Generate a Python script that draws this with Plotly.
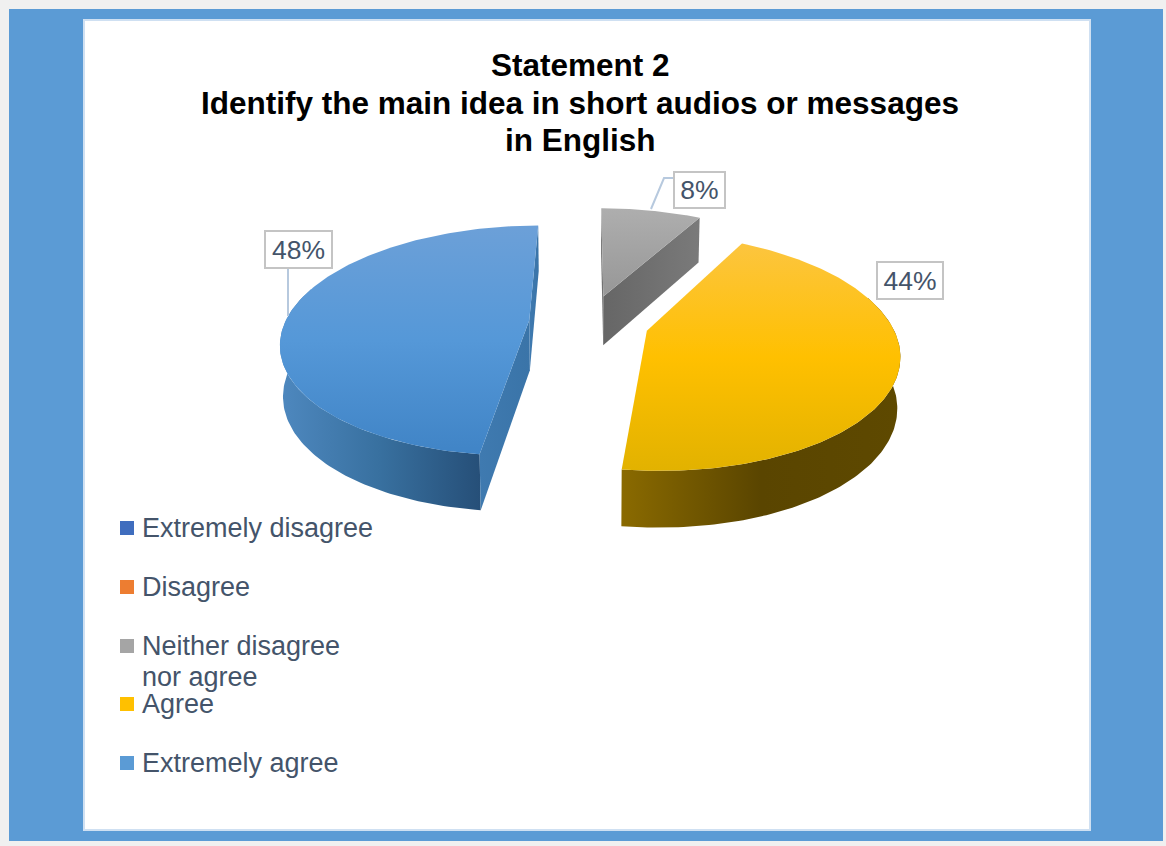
import numpy as np
import plotly.graph_objects as go

# Survey responses, in percent
categories = ["Extremely disagree", "Disagree", "Neither disagree<br>nor agree", "Agree", "Extremely agree"]
percentages = [0, 0, 8, 44, 48]
title_lines = ["Statement 2", "Identify the main idea in short audios or messages", "in English"]

# Palette per category
key_colors = ["#3F6DBE", "#ED7D31", "#A5A5A5", "#FFC000", "#5B9BD5"]
top_ramps = {
    2: ["#AEAEAE", "#979797"],
    3: ["#FCC53F", "#FFC000", "#E2B200"],
    4: ["#6CA0D8", "#5598D8", "#4084C6"],
}
wall_ramps = {
    3: ["#8A6A00", "#5A4500", "#5E4900"],
    4: ["#4E88BF", "#38709F", "#264F78"],
}
face_ramps = {2: ["#666666", "#7A7A7A"], 4: ["#3F7AB0", "#3A74A8"]}

# Pie geometry: projected disc with mild perspective
CX, CY, RX, RY = 589.0, 322.0, 244.0, 112.0
PERSPECTIVE = 0.177
EXPLODE = 0.246
DEPTH = 50.0
BOTTOM_SHRINK = 0.99


def project(u, v):
    s = 1.0 / (1.0 - PERSPECTIVE * v)
    return CX + RX * u * s, CY + RY * v * s, s


def top_point(theta, r, du, dv):
    return project(r * np.sin(theta) + du, -r * np.cos(theta) + dv)


def lower(x, y, s):
    return CX + (x - CX) * BOTTOM_SHRINK, y + DEPTH * s ** 0.6


def scale_of(colors):
    return [[i / (len(colors) - 1), c] for i, c in enumerate(colors)]


def polygon(xs, ys, colors, kind, start, stop, name):
    return go.Scatter(
        x=list(xs), y=list(ys), mode="lines", name=name, fill="toself",
        line=dict(width=0), showlegend=False, hoverinfo="skip",
        fillgradient=dict(type=kind, colorscale=scale_of(colors), start=start, stop=stop),
    )


fig = go.Figure()

# Slices, clockwise from twelve o'clock in category order
edges = np.radians(np.cumsum([0] + percentages) * 3.6)
for i, pct in enumerate(percentages):
    if pct == 0:
        continue
    a0, a1 = edges[i], edges[i + 1]
    mid = (a0 + a1) / 2
    du, dv = EXPLODE * np.sin(mid), -EXPLODE * np.cos(mid)
    thetas = np.linspace(a0, a1, 160)
    ax, ay, asc = top_point(thetas, 1.0, du, dv)
    bx, by = lower(ax, ay, asc)
    px, py, ps = project(du, dv)
    pbx, pby = lower(px, py, ps)
    name = categories[i].replace("<br>", " ")

    # Outer rim, front part only
    if i in wall_ramps:
        front = -np.cos(thetas) > -0.3
        rx_all = np.r_[ax[front], bx[front][::-1], ax[front][0]]
        ry_all = np.r_[ay[front], by[front][::-1], ay[front][0]]
        fig.add_trace(polygon(rx_all, ry_all, wall_ramps[i], "horizontal", rx_all.min(), rx_all.max(), name + " rim"))

    # Cut faces behind the top surface
    if i in face_ramps:
        for j in (0, -1):
            fx = [px, ax[j], bx[j], pbx, px]
            fy = [py, ay[j], by[j], pby, py]
            fig.add_trace(polygon(fx, fy, face_ramps[i], "horizontal", min(fx), max(fx), name + " face"))

    # Top surface
    tx = np.r_[px, ax, px]
    ty = np.r_[py, ay, py]
    fig.add_trace(polygon(tx, ty, top_ramps[i], "vertical", ty.min(), ty.max(), name))

# Data label boxes: centre x, centre y, width, height per category index
label_boxes = {2: (699.5, 190, 49, 34), 3: (910, 280.5, 64, 35), 4: (298.5, 249.5, 65, 35)}
leaders = [([288, 288], [269, 316]), ([651, 664, 673], [209, 178, 178])]
for lx, ly in leaders:
    fig.add_trace(go.Scatter(x=lx, y=ly, mode="lines", showlegend=False, hoverinfo="skip",
                             line=dict(color="#B7C9DE", width=2)))

annotations = []
for i, (bx_, by_, bw, bh) in label_boxes.items():
    annotations.append(dict(
        x=bx_, y=by_, xref="x", yref="y", text=f"{percentages[i]}%", showarrow=False,
        xanchor="center", yanchor="middle", width=bw, height=bh, borderpad=0, borderwidth=2,
        bordercolor="#C4C4C4", bgcolor="#FFFFFF", align="center",
        font=dict(family="Liberation Sans", size=26.5, color="#44546A"),
    ))

# Legend column
key_y = [528, 587, 646, 704, 763]
LEGEND_LINE_GAP = 31
fig.add_trace(go.Scatter(
    x=[127] * len(categories), y=key_y, mode="markers", showlegend=False, hoverinfo="skip",
    marker=dict(symbol="square", size=14, color=key_colors, line=dict(width=0)),
))
for name, y in zip(categories, key_y):
    for n, line in enumerate(name.split("<br>")):
        annotations.append(dict(
            x=140.5, y=y + n * LEGEND_LINE_GAP, xref="x", yref="y", text=line, showarrow=False,
            xanchor="left", yanchor="middle", align="left", borderpad=0,
            font=dict(family="Liberation Sans", size=27, color="#44546A"),
        ))

# Heading, one annotation per line
for line, y in zip(title_lines, [65, 102.5, 140]):
    annotations.append(dict(
        x=580, y=y, xref="x", yref="y", text=f"<b>{line}</b>", showarrow=False,
        xanchor="center", yanchor="middle", borderpad=0,
        font=dict(family="Liberation Sans", size=31.5, color="#000000"),
    ))

# Frame panels
shapes = [
    dict(type="rect", layer="below", xref="x", yref="y", x0=9, x1=1163, y0=9, y1=841,
         fillcolor="#5B9BD5", line=dict(width=0)),
    dict(type="rect", layer="below", xref="x", yref="y", x0=84, x1=1090, y0=20, y1=830,
         fillcolor="#FFFFFF", line=dict(color="#CFE0F2", width=2)),
]

fig.update_layout(
    width=1166, height=846, autosize=False,
    margin=dict(l=0, r=0, t=0, b=0),
    paper_bgcolor="#F0F0F0", plot_bgcolor="rgba(0,0,0,0)",
    showlegend=False,
    xaxis=dict(range=[0, 1166], visible=False, fixedrange=True),
    yaxis=dict(range=[846, 0], visible=False, fixedrange=True),
    shapes=shapes, annotations=annotations,
)

fig.write_html("out.html")
